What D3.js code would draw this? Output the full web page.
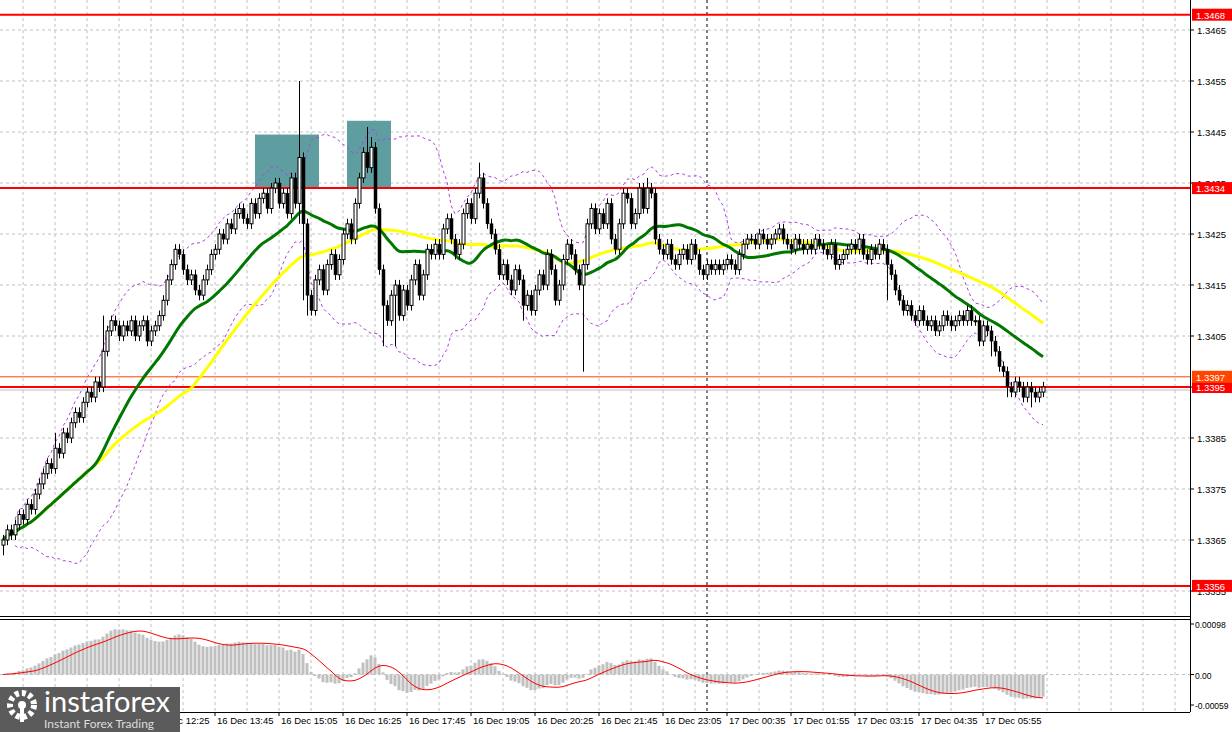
<!DOCTYPE html>
<html><head><meta charset="utf-8">
<script src="https://cdn.jsdelivr.net/npm/d3@7"></script>
<style>body{margin:0;background:#fff}svg{display:block;font-family:"Liberation Sans",Arial,sans-serif}</style>
</head><body><svg id="c" width="1232" height="732"></svg>
<script>
// closes in pips above 1.3300, one per 5-minute bar
const closes = [
  65,67,66,68,70,69,72,71,74,76, 78,80,79,83,82,86,85,88,90,89,
  92,94,93,96,95,102,106,108,107,105, 107,106,108,105,107,108,104,106,107,109,
  112,116,119,122,121,118,116,117,114,113, 116,118,121,122,125,124,127,126,129,130,
  128,127,131,129,132,133,130,134,135,131, 133,129,136,131,140,127,113,110,116,118,
  114,119,121,117,120,125,127,124,131,136, 141,138,142,130,118,111,108,113,115,109,
  114,111,116,119,113,117,122,121,123,121, 126,128,124,121,123,129,131,128,133,136,
  131,127,125,122,117,119,116,114,118,116, 111,113,110,114,117,115,121,118,112,115,
  120,123,121,118,115,119,127,130,126,129, 127,131,124,122,127,133,132,127,129,134,
  130,134,133,124,122,121,123,120,119,121, 122,120,123,121,118,117,119,118,119,118,
  119,120,119,118,121,123,124,124,123,125, 124,123,124,125,126,124,123,122,124,123,
  122,123,122,124,123,122,121,123,119,120, 121,122,123,122,124,121,120,122,121,123,
  122,119,117,114,112,110,111,109,108,110, 108,107,108,106,107,109,108,107,108,109,
  108,110,108,108,104,107,106,104,102,99, 98,95,94,96,95,93,95,94,93,94,95
];
// notable wicks (pips)
const wicks = [
  {i:74,h:155,l:127},{i:75,l:112},{i:76,l:109},{i:91,h:146},{i:92,h:144},{i:95,l:103},
  {i:98,l:103},{i:119,h:139},{i:130,l:108},{i:145,l:98},{i:161,h:136},{i:221,l:112},{i:247,l:101},
  {i:251,l:93},{i:257,l:91},{i:0,l:62},{i:13,h:86},{i:25,h:109}
];
const timeLabels = ["16 Dec 12:25","16 Dec 13:45","16 Dec 15:05","16 Dec 16:25","16 Dec 17:45","16 Dec 19:05",
  "16 Dec 20:25","16 Dec 21:45","16 Dec 23:05","17 Dec 00:35","17 Dec 01:55","17 Dec 03:15","17 Dec 04:35","17 Dec 05:55"];
const firstLabelBar = 37, labelStep = 16, sessionBar = 176;
const priceTicks = [1.3465,1.3455,1.3445,1.3435,1.3425,1.3415,1.3405,1.3395,1.3385,1.3375,1.3365,1.3355];
const levels = [
  {v:1.3468,c:"#ff0000",w:2},{v:1.3434,c:"#ff0000",w:2},{v:1.3397,c:"#ff4500",w:1},
  {v:1.3395,c:"#ff0000",w:2},{v:1.3356,c:"#ff0000",w:2}
];
const zones = [{b0:63,b1:79,lo:1.3434,hi:1.34445},{b0:86,b1:97,lo:1.3434,hi:1.34472}];
const macdTicks = [0.00098,0,-0.00059];

const svg = d3.select("#c");
const P = 1e-4, base = 1.33;
const bars = closes.map((c,i) => {
  const o = i ? closes[i-1] : c - 1;
  const w = wicks.find(d => d.i === i) || {};
  return {i, o:base+o*P, c:base+c*P,
    h:base+(w.h ?? Math.max(o,c)+1)*P, l:base+(w.l ?? Math.min(o,c)-1)*P};
});
const x = d3.scaleLinear().domain([0,1]).range([3,7]);
const y = d3.scaleLinear().domain([1.3465,1.3355]).range([30,591]);
const R = 1190, mainB = 614;

// grid
const g = svg.append("g");
d3.range(23,R,32).forEach(gx => g.append("line").attr("x1",gx).attr("x2",gx).attr("y1",0).attr("y2",712)
  .attr("stroke","#c0c0c0").attr("stroke-dasharray","3,3"));
priceTicks.forEach(t => g.append("line").attr("x1",0).attr("x2",R).attr("y1",y(t)).attr("y2",y(t))
  .attr("stroke","#c0c0c0").attr("stroke-dasharray","3,3"));
svg.append("line").attr("x1",x(sessionBar)).attr("x2",x(sessionBar)).attr("y1",0).attr("y2",712)
  .attr("stroke","#000").attr("stroke-dasharray","3,3");

// zones
zones.forEach(z => svg.append("rect").attr("x",x(z.b0)).attr("width",x(z.b1)-x(z.b0))
  .attr("y",y(z.hi)).attr("height",y(z.lo)-y(z.hi)).attr("fill","#5f9ea0"));

// indicators
function sma(arr,n){return arr.map((_,i)=>{const s=arr.slice(Math.max(0,i-n+1),i+1);return d3.mean(s);});}
const cl = bars.map(b=>b.c);
const bbMid = sma(cl,20);
const bbDev = cl.map((_,i)=>{const s=cl.slice(Math.max(0,i-19),i+1);return d3.deviation(s)||0;});
const line = d3.line().x((d,i)=>x(i)).y(d=>y(d));
[bbMid.map((m,i)=>m+2*bbDev[i]), bbMid.map((m,i)=>m-2*bbDev[i])].forEach(s =>
  svg.append("path").attr("d",line(s.slice(3))).attr("transform","translate(12,0)").attr("fill","none")
  .attr("stroke","#b040e0").attr("stroke-dasharray","3,3").attr("stroke-width",1));

// levels
levels.forEach(l => svg.append("line").attr("x1",0).attr("x2",R).attr("y1",y(l.v)).attr("y2",y(l.v))
  .attr("stroke",l.c).attr("stroke-width",l.w));
const last = bars[bars.length-1].c;
svg.append("line").attr("x1",0).attr("x2",R).attr("y1",y(last)+3).attr("y2",y(last)+3).attr("stroke","#c0c0c0");

const smoothLine = d3.line().x((d,i)=>x(i)).y(d=>y(d)).curve(d3.curveBasis);
svg.append("path").attr("d",smoothLine(sma(cl,48))).attr("fill","none").attr("stroke","#ffff00").attr("stroke-width",3);
svg.append("path").attr("d",smoothLine(sma(cl,24))).attr("fill","none").attr("stroke","#007800").attr("stroke-width",3);

// candles
const cg = svg.append("g");
bars.forEach(b => {
  const cx = Math.round(x(b.i))+0.5;
  cg.append("line").attr("x1",cx).attr("x2",cx).attr("y1",y(b.h)).attr("y2",y(b.l)).attr("stroke","#000");
  const top = y(Math.max(b.o,b.c)), h = Math.max(1,Math.abs(y(b.o)-y(b.c)));
  cg.append("rect").attr("x",cx-1.5).attr("width",3).attr("y",top).attr("height",h)
    .attr("fill",b.c>=b.o?"#fff":"#000").attr("stroke","#000").attr("stroke-width",b.c>=b.o?1:0.5);
});

// MACD panel
const e12 = [], e26 = [];
cl.forEach((c,i)=>{e12.push(i?e12[i-1]+(c-e12[i-1])*2/13:c);e26.push(i?e26[i-1]+(c-e26[i-1])*2/27:c);});
const macd = cl.map((_,i)=>e12[i]-e26[i]);
const sig = sma(macd,9);
const ym = d3.scaleLinear().domain([0.00098,-0.00059]).range([624,705]);
svg.append("line").attr("x1",0).attr("x2",R).attr("y1",ym(0)).attr("y2",ym(0)).attr("stroke","#c0c0c0").attr("stroke-dasharray","3,3");
svg.append("g").selectAll("rect").data(macd).join("rect")
  .attr("x",(d,i)=>x(i)-1.5).attr("width",3)
  .attr("y",d=>Math.min(ym(d),ym(0))).attr("height",d=>Math.abs(ym(d)-ym(0)))
  .attr("fill","#c0c0c0");
svg.append("path").attr("d",d3.line().x((d,i)=>x(i)).y(d=>ym(d))(sig)).attr("fill","none").attr("stroke","#ff0000");

// frame
svg.append("rect").attr("x",0).attr("y",mainB).attr("width",R).attr("height",6).attr("fill","#fff");
[mainB+2,mainB+5].forEach(yy=>svg.append("line").attr("x1",0).attr("x2",R).attr("y1",yy+0.5).attr("y2",yy+0.5).attr("stroke","#000"));
svg.append("rect").attr("x",R).attr("y",0).attr("width",42).attr("height",732).attr("fill","#fff");
svg.append("rect").attr("x",0).attr("y",712).attr("width",R).attr("height",20).attr("fill","#fff");
svg.append("line").attr("x1",R+0.5).attr("x2",R+0.5).attr("y1",0).attr("y2",712).attr("stroke","#000");
svg.append("line").attr("x1",0).attr("x2",R).attr("y1",712.5).attr("y2",712.5).attr("stroke","#000");

// price axis
const ax = svg.append("g").attr("font-size",9.5).attr("fill","#000");
priceTicks.forEach(t => {
  ax.append("line").attr("x1",R).attr("x2",R+4).attr("y1",y(t)).attr("y2",y(t)).attr("stroke","#000");
  ax.append("text").attr("x",R+7).attr("y",y(t)+4).text(t.toFixed(4));
});
macdTicks.forEach(t => {
  ax.append("line").attr("x1",R).attr("x2",R+4).attr("y1",ym(t)).attr("y2",ym(t)).attr("stroke","#000");
  ax.append("text").attr("x",R+5).attr("y",ym(t)+4).attr("font-size",8.5).text(t===0?"0.00":t.toFixed(5));
});
const tags = [{v:last,c:"#000"}, ...levels.slice().reverse().map(l=>({v:l.v,c:l.c}))];
tags.forEach(t => {
  ax.append("rect").attr("x",R+2).attr("y",y(t.v)-6).attr("width",40).attr("height",12).attr("fill",t.c);
  ax.append("text").attr("x",R+6).attr("y",y(t.v)+4).attr("fill","#fff").text(t.v.toFixed(4));
});

// time axis
timeLabels.forEach((s,k) => {
  const tx = x(firstLabelBar+k*labelStep);
  ax.append("line").attr("x1",tx).attr("x2",tx).attr("y1",712).attr("y2",716).attr("stroke","#000");
  ax.append("text").attr("x",tx+2).attr("y",724).text(s);
});

// logo
const lg = svg.append("g");
lg.append("rect").attr("x",0).attr("y",687).attr("width",180).attr("height",45).attr("fill","#5b5b5b");
lg.append("circle").attr("cx",22).attr("cy",705).attr("r",12).attr("fill","none").attr("stroke","#fff").attr("stroke-width",6).attr("stroke-dasharray","4,3");
lg.append("circle").attr("cx",22).attr("cy",705).attr("r",4).attr("fill","#fff");
lg.append("rect").attr("x",20).attr("y",705).attr("width",4).attr("height",17).attr("fill","#fff");
lg.append("text").attr("x",44).attr("y",712).attr("fill","#fff").attr("font-size",29).attr("font-family","Lato, sans-serif").text("instaforex");
lg.append("text").attr("x",44).attr("y",728).attr("fill","#ddd").attr("font-size",12).attr("font-family","Lato, sans-serif").text("Instant Forex Trading");
</script></body></html>
